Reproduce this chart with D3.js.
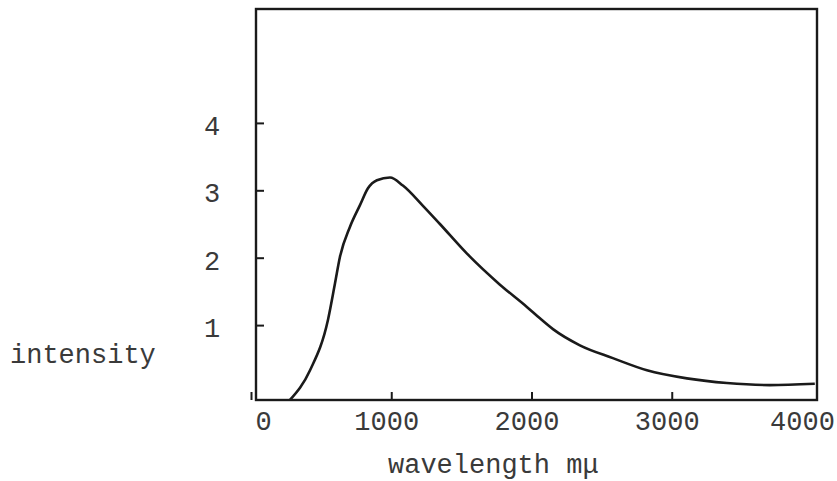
<!DOCTYPE html>
<html lang="en">
<head>
  <meta charset="UTF-8">
  <title>intensity vs wavelength</title>
  <style>
    body { margin: 0; background: #fff; }
    text { font-family: "Liberation Mono", "DejaVu Sans Mono", monospace; fill: #3a3a3a; }
  </style>
</head>
<body>
  <script src="https://d3js.org/d3.v7.min.js"></script>
  <script>

    // curve
    const wavelength = [278, 421, 549, 599, 634, 706, 777, 834, 898, 991, 1083, 1226, 1347, 1540, 1775, 1967, 2060, 2153, 2345, 2580, 2823, 3108, 3393, 3699, 4020]
    const intensity = [-0.11, 0.33, 1.08, 1.62, 2.01, 2.46, 2.78, 3.03, 3.15, 3.19, 3.07, 2.77, 2.50, 2.06, 1.60, 1.27, 1.10, 0.94, 0.70, 0.51, 0.33, 0.21, 0.14, 0.11, 0.13]
    const xTicks = [0, 1000, 2000, 3000, 4000]
    const yTicks = [1, 2, 3, 4]

    const width = 837, height = 481
    const frameL = 256, frameR = 817, frameT = 9, frameB = 400

    const svg = d3.select('body')
      .append('svg')
      .attr('width', width)
      .attr('height', height)

    const x = d3.scaleLinear()
      .domain([0, 4000])
      .range([251, 812])

    const y = d3.scaleLinear()
      .domain([0, 4])
      .range([392.5, 122.9])

    // frame
    svg.append('rect')
      .attr('x', frameL)
      .attr('y', frameT)
      .attr('width', frameR - frameL)
      .attr('height', frameB - frameT)
      .attr('fill', 'none')
      .attr('stroke', '#1a1a1a')
      .attr('stroke-width', 2.4)

    const xAxis = svg.append('g')
      .attr('transform', `translate(0, ${frameB})`)
      .call(d3.axisBottom(x).tickValues(xTicks).tickFormat(d3.format('d')).tickSizeInner(-8).tickSizeOuter(0).tickPadding(11))
    xAxis.select('.domain').remove()
    xAxis.selectAll('line').attr('stroke', '#1a1a1a').attr('stroke-width', 2)
    xAxis.selectAll('text')
      .attr('font-size', 27)
      .attr('dx', d => d === 0 ? 12 : d === 4000 ? -10 : -5)
    xAxis.selectAll('.tick').filter(d => d === 4000).select('line').remove()

    const yAxis = svg.append('g')
      .attr('transform', `translate(${frameL}, 0)`)
      .call(d3.axisLeft(y).tickValues(yTicks).tickFormat(d3.format('d')).tickSizeInner(-8).tickSizeOuter(0))
    yAxis.select('.domain').remove()
    yAxis.selectAll('line').attr('stroke', '#1a1a1a').attr('stroke-width', 2)
    yAxis.selectAll('text')
      .attr('font-size', 27)
      .attr('text-anchor', 'middle')
      .attr('x', -44)
      .attr('dy', '0.42em')

    const pts = wavelength.map((w, i) => [w, intensity[i]])

    svg.append('path')
      .datum(pts)
      .attr('fill', 'none')
      .attr('stroke', '#1a1a1a')
      .attr('stroke-width', 2.6)
      .attr('stroke-linejoin', 'round')
      .attr('d', d3.line()
        .x(d => x(d[0]))
        .y(d => y(d[1]))
        .curve(d3.curveMonotoneX))

    svg.append('text')
      .attr('x', 10)
      .attr('y', 363)
      .attr('font-size', 27)
      .text('intensity')

    svg.append('text')
      .attr('x', 388)
      .attr('y', 473)
      .attr('font-size', 27)
      .text('wavelength mμ')

  </script>
</body>
</html>
